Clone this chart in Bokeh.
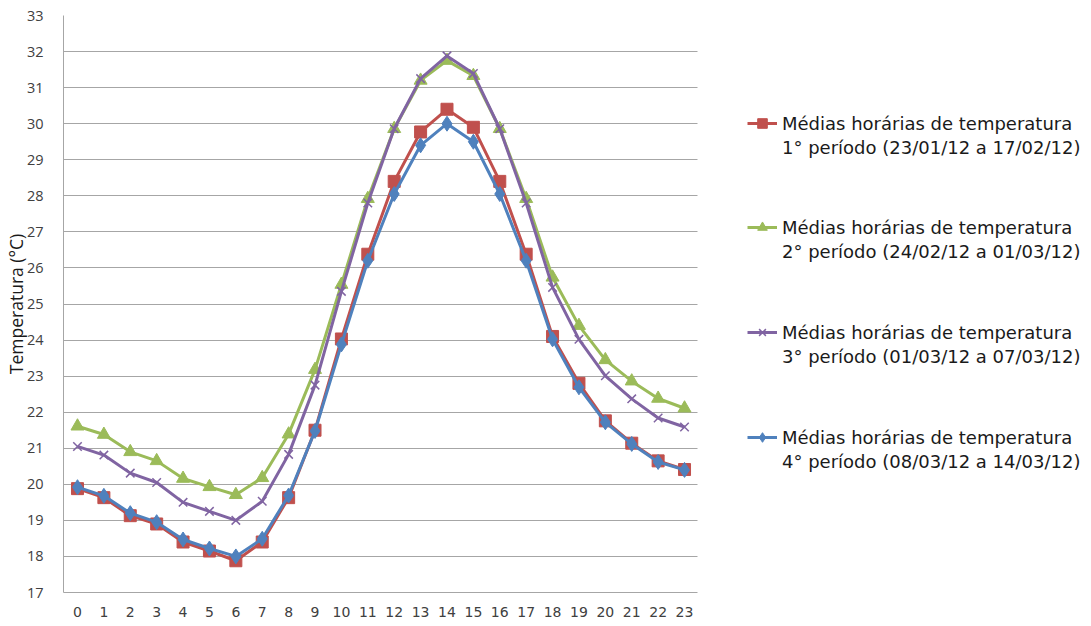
from bokeh.plotting import figure
from bokeh.models import Legend, LegendItem, FixedTicker, Range1d
from bokeh.embed import file_html
from bokeh.resources import INLINE

hours = list(range(24))

periodo_1 = [19.88, 19.63, 19.13, 18.90, 18.40, 18.15, 17.88, 18.40, 19.63, 21.50,
             24.03, 26.38, 28.40, 29.77, 30.40, 29.90, 28.40, 26.38, 24.10, 22.80,
             21.76, 21.14, 20.65, 20.41]
periodo_2 = [21.61, 21.38, 20.90, 20.65, 20.16, 19.93, 19.71, 20.18, 21.39, 23.18,
             25.54, 27.92, 29.86, 31.20, 31.75, 31.33, 29.86, 27.92, 25.74, 24.40,
             23.45, 22.86, 22.38, 22.11]
periodo_3 = [21.05, 20.81, 20.31, 20.05, 19.50, 19.25, 19.00, 19.53, 20.83, 22.75,
             25.35, 27.80, 29.86, 31.25, 31.88, 31.39, 29.86, 27.80, 25.46, 24.02,
             23.01, 22.37, 21.84, 21.59]
periodo_4 = [19.92, 19.68, 19.20, 18.95, 18.47, 18.22, 18.00, 18.49, 19.69, 21.48,
             23.88, 26.20, 28.05, 29.40, 30.00, 29.50, 28.05, 26.20, 24.02, 22.69,
             21.72, 21.12, 20.62, 20.40]

label_title = "Médias horárias de temperatura"
label_periods = [
    "1° período (23/01/12 a 17/02/12)",
    "2° período (24/02/12 a 01/03/12)",
    "3° período (01/03/12 a 07/03/12)",
    "4° período (08/03/12 a 14/03/12)",
]
y_ticks = list(range(17, 34))

FONT = "DejaVu Sans"
YFONT = "Open Sans"
TXT = "#404040"
GRID = "#a6a6a6"

# plot area spans the full width; the legend sits in the empty space to the right
X_LO, X_HI = -0.53, 23.5
p = figure(width=1091, height=626, output_backend="svg", toolbar_location=None,
           x_range=Range1d(X_LO, 38.42), y_range=Range1d(17, 33),
           min_border_left=63, min_border_right=0, min_border_top=15,
           min_border_bottom=34)
p.outline_line_color = None
p.background_fill_color = "white"

red, green, purple, blue = "#C0504D", "#9BBB59", "#8064A2", "#4F81BD"

# horizontal grid lines limited to the hour span
grid = p.ygrid[0]
if "cross_bounds" in grid.properties():
    grid.cross_bounds = (X_LO, X_HI)
    grid.grid_line_color = GRID
else:
    grid.grid_line_color = None
    p.segment(x0=X_LO, x1=X_HI, y0=y_ticks, y1=y_ticks, line_color=GRID, line_width=1)
p.xgrid.grid_line_color = None

series = [
    (periodo_1, red, dict(marker="square", size=12, fill_color=red, line_color=red)),
    (periodo_2, green, dict(marker="triangle", size=13, fill_color=green, line_color=green)),
    (periodo_3, purple, dict(marker="x", size=12, line_color=purple, line_width=1.5)),
    (periodo_4, blue, dict(marker="diamond", size=15, fill_color=blue, line_color=blue)),
]

legend_bottoms = [433, 329, 224, 119]
for (vals, col, mk), period, vy in zip(series, label_periods, legend_bottoms):
    ln = p.line(hours, vals, color=col, line_width=3)
    sc = p.scatter(hours, vals, **mk)
    lg = Legend(items=[LegendItem(label=label_title, renderers=[ln, sc]),
                       LegendItem(label=period, renderers=[])],
                location=(684, vy), border_line_color=None,
                background_fill_alpha=0, label_text_font=FONT,
                label_text_font_size="18px", label_text_color="#1a1a1a",
                glyph_width=30, glyph_height=24, label_height=24,
                label_standoff=5, spacing=0, padding=0, margin=0)
    p.add_layout(lg, "center")

p.xaxis.ticker = FixedTicker(ticks=hours)
p.yaxis.ticker = FixedTicker(ticks=y_ticks)
p.xaxis.bounds = (X_LO, X_HI)
for ax in (p.xaxis, p.yaxis):
    ax.major_tick_line_color = None
    ax.minor_tick_line_color = None
    ax.axis_line_color = GRID
    ax.major_label_text_font_size = "14px"
    ax.major_label_text_color = TXT
p.xaxis.major_label_text_font = FONT
p.yaxis.major_label_text_font = YFONT
p.yaxis.major_label_text_font_size = "14.5px"
p.yaxis.axis_label = "Temperatura (°C)"
p.yaxis.axis_label_text_font = YFONT
p.yaxis.axis_label_text_font_style = "normal"
p.yaxis.axis_label_text_font_size = "17.5px"
p.yaxis.axis_label_text_color = "#1a1a1a"
p.yaxis.axis_label_standoff = -4
p.yaxis.major_label_standoff = 14
p.xaxis.major_label_standoff = 8

open("out.html", "w").write(file_html(p, INLINE))
